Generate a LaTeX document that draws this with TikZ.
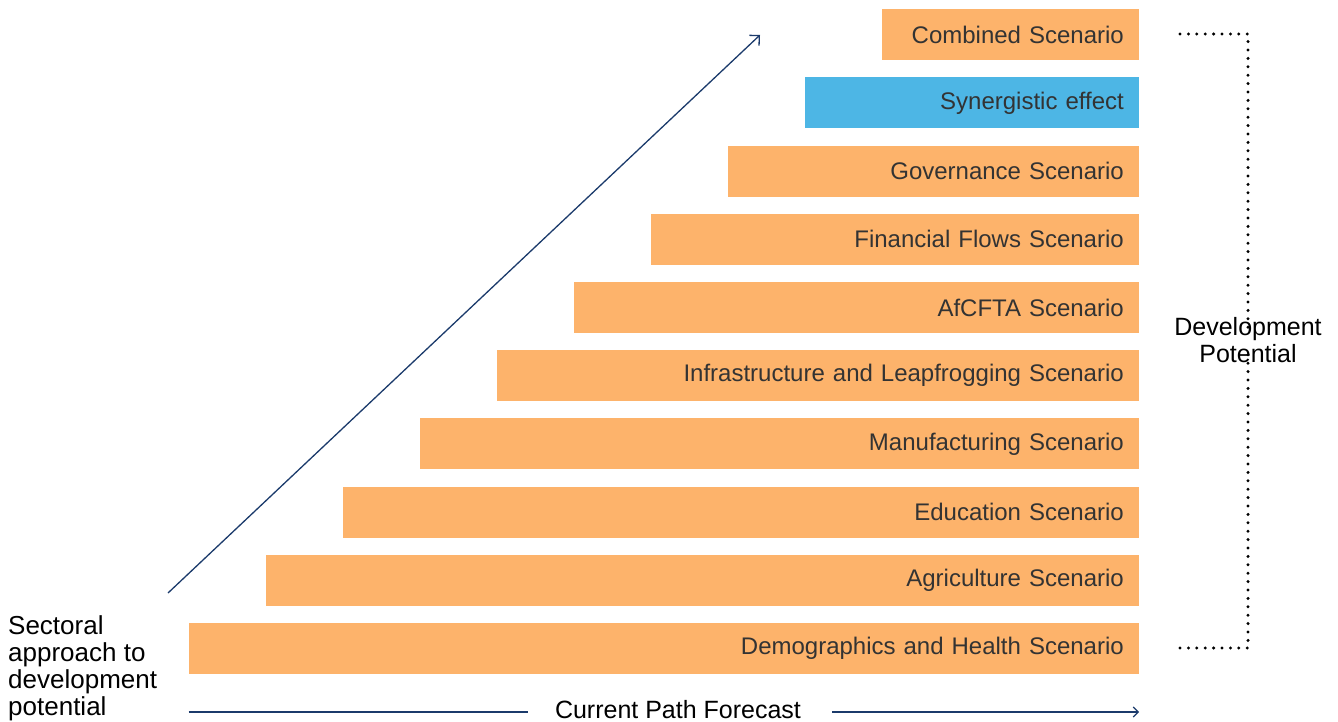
\documentclass[tikz,border=0pt]{standalone}
\usepackage{fontspec}
\setmainfont{Liberation Sans}
\usetikzlibrary{arrows.meta}
\definecolor{barorange}{HTML}{FDB36B}
\definecolor{barblue}{HTML}{4DB6E5}
\definecolor{navy}{HTML}{1B3A6B}
\definecolor{bartext}{HTML}{333333}
\begin{document}
\begin{tikzpicture}[x=1pt,y=-1pt,
  bar/.style={fill=barorange, draw=none, anchor=north east, minimum height=51pt,
    inner xsep=15pt, inner ysep=0pt, align=right, text=bartext,
    font=\fontsize{24}{28}\selectfont},
  lbl/.style={font=\fontsize{25}{27}\selectfont, text=black, inner sep=0pt},
  dotline/.style={line width=3.3pt, line cap=round, dash pattern=on 0pt off 8.4pt},
  navyarrow/.style={draw=navy, line width=1.3pt}
]
\useasboundingbox (0,0) rectangle (1338,722);

% staircase of scenario bars, right edge at x = 1139
\foreach \n/\l/\t/\c in {
  1/882/Combined Scenario/barorange,
  2/805/Synergistic effect/barblue,
  3/728/Governance Scenario/barorange,
  4/651/Financial Flows Scenario/barorange,
  5/574/AfCFTA Scenario/barorange,
  6/497/Infrastructure and Leapfrogging Scenario/barorange,
  7/420/Manufacturing Scenario/barorange,
  8/343/Education Scenario/barorange,
  9/266/Agriculture Scenario/barorange,
  10/189/Demographics and Health Scenario/barorange}{
  \pgfmathsetmacro{\top}{8+68.2*(\n-1)}
  \pgfmathsetmacro{\tw}{1139-\l-30}
  \node[bar, fill=\c, text width=\tw pt] (b\n) at (1139,\top+1) {\t};
}

% labels
\node[lbl, anchor=north west, align=left, font=\fontsize{26}{27}\selectfont] (sect) at (8,615)
  {Sectoral\\approach to\\development\\potential};
\node[lbl] (cpf) at (678,710) {Current Path Forecast};
\node[lbl, align=center] (dev) at (1248,340) {Development\\Potential};

% rising arrow
\coordinate (d0) at (168,593);
\coordinate (d1) at (760,35);
\draw[navyarrow, -{Straight Barb[length=7pt,width=14pt,line width=1.3pt]}] (d0) -- (d1);

% current path forecast axis
\coordinate (a0) at (b10.south west |- 0,712);
\coordinate (a1) at (b10.south east |- 0,712);
\draw[navyarrow] (a0) -- (528,712);
\draw[navyarrow, -{Straight Barb[length=5pt,width=10pt,line width=1.1pt]}]
  (832,712) -- (a1);

% dotted bracket for development potential
\coordinate (t0) at (1180,34);
\coordinate (t1) at (1248,34);
\coordinate (u0) at (1180,648);
\coordinate (u1) at (1248,648);
\draw[dotline] (t0) -- (t1) -- ([yshift=-12pt]dev.north);
\draw[dotline] (u0) -- (u1) -- ([yshift=12pt]dev.south);
\end{tikzpicture}
\end{document}
